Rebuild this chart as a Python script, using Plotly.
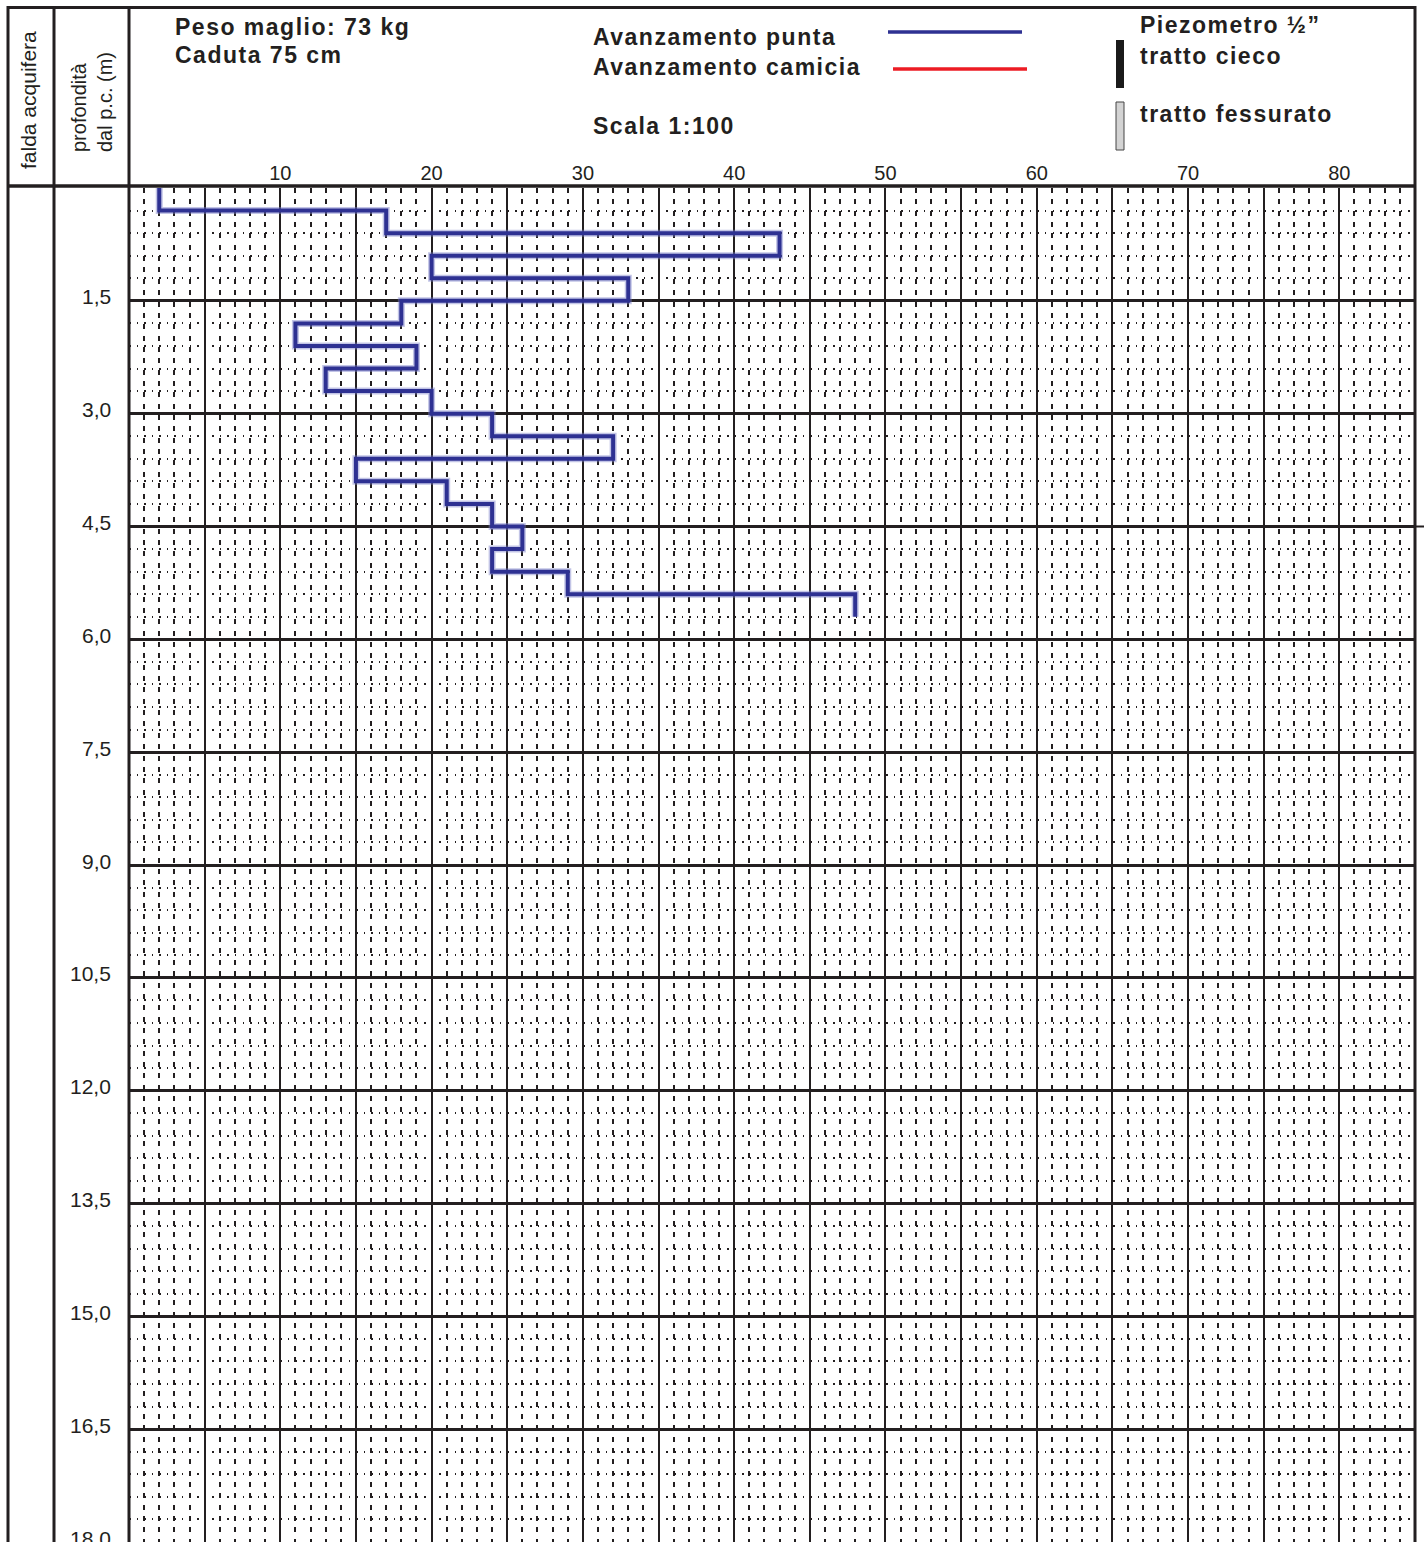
import plotly.graph_objects as go

# Penetration test log: blows per 30 cm of advance vs depth
depth_top = [0.0, 0.3, 0.6, 0.9, 1.2, 1.5, 1.8, 2.1, 2.4, 2.7,
             3.0, 3.3, 3.6, 3.9, 4.2, 4.5, 4.8, 5.1, 5.4]
depth_end = 5.7
blows_tip = [2, 17, 43, 20, 33, 18, 11, 19, 13, 20,
             24, 32, 15, 21, 24, 26, 24, 29, 48]

# Axis scales
x_grid_values = [5, 10, 15, 20, 25, 30, 35, 40, 45, 50, 55, 60, 65, 70, 75, 80]
x_label_values = [10, 20, 30, 40, 50, 60, 70, 80]
depth_major = [1.5, 3.0, 4.5, 6.0, 7.5, 9.0, 10.5, 12.0, 13.5, 15.0, 16.5]
depth_labels = [1.5, 3.0, 4.5, 6.0, 7.5, 9.0, 10.5, 12.0, 13.5, 15.0, 16.5, 18.0]

W, H = 1424, 1542
L, R, T, B = 129, 9, 188, 0
PW, PH = W - L - R, H - T - B

INK = "#231f20"
BLUE = "#2e3192"
RED = "#ed1c24"
FONT = "Liberation Sans"


def fx(px):
    return (px - L) / PW


def fy(py):
    return (H - B - py) / PH


fig = go.Figure()

# soft halo under the profile line
fig.add_trace(go.Scatter(
    x=blows_tip + [blows_tip[-1]], y=depth_top + [depth_end],
    mode="lines", line=dict(color="rgba(120,125,200,0.45)", width=7, shape="vh"),
    hoverinfo="skip", showlegend=False))
fig.add_trace(go.Scatter(
    x=blows_tip + [blows_tip[-1]], y=depth_top + [depth_end],
    mode="lines", line=dict(color=BLUE, width=4, shape="vh"),
    name="Avanzamento punta", showlegend=False))

fig.update_xaxes(
    range=[0, 85], side="top",
    tickmode="array", tickvals=x_grid_values,
    ticktext=[str(v) if v in x_label_values else "" for v in x_grid_values],
    tickfont=dict(family=FONT, size=20, color=INK),
    ticks="", ticklabelstandoff=3, showline=False, zeroline=False,
    showgrid=True, gridcolor=INK, gridwidth=2,
    minor=dict(dtick=1, tick0=0, showgrid=True, gridcolor=INK,
               gridwidth=1.5, griddash="5px,6.35px"),
)
fig.update_yaxes(
    range=[18, 0],
    tickmode="array", tickvals=depth_major, showticklabels=False,
    ticks="", showline=False, zeroline=False,
    showgrid=True, gridcolor=INK, gridwidth=3,
    minor=dict(dtick=0.3, tick0=0, showgrid=True, gridcolor=INK,
               gridwidth=1.5, griddash="1.5px,6.07px"),
)

shapes = []


def pline(x0, y0, x1, y1, color=INK, width=3):
    shapes.append(dict(type="line", xref="paper", yref="paper",
                       x0=fx(x0), y0=fy(y0), x1=fx(x1), y1=fy(y1),
                       line=dict(color=color, width=width)))


# frame and columns
pline(8, 7.5, 1416, 7.5)
pline(8, 186, 1416, 186, width=3.5)
for cx in (8, 54, 129, 1415):
    pline(cx, 6, cx, H)

# water table line runs past the frame
shapes.append(dict(type="line", xref="paper", yref="y",
                   x0=1.0, x1=fx(1424), y0=4.5, y1=4.5,
                   line=dict(color=INK, width=2)))

# legend swatches
pline(888, 32, 1022, 32, color=BLUE, width=3.5)
pline(893, 69, 1027, 69, color=RED, width=3.5)
shapes.append(dict(type="rect", xref="paper", yref="paper",
                   x0=fx(1116), x1=fx(1124), y0=fy(40), y1=fy(88),
                   fillcolor="#1a1a1a", line=dict(width=0)))
shapes.append(dict(type="rect", xref="paper", yref="paper",
                   x0=fx(1116), x1=fx(1124), y0=fy(102), y1=fy(150),
                   fillcolor="#d3d3d3", line=dict(color="#444", width=1)))

annotations = []


def header(text, x, y, size=23, spacing=1.5):
    annotations.append(dict(
        xref="paper", yref="paper", x=fx(x), y=fy(y),
        xanchor="left", yanchor="middle", showarrow=False,
        text=f'<span style="letter-spacing:{spacing}px">{text}</span>',
        font=dict(family=FONT, size=size, color=INK, weight="bold")))


header("Peso maglio: 73 kg", 173, 27)
header("Caduta 75 cm", 173, 55)
header("Avanzamento punta", 591, 37)
header("Avanzamento camicia", 591, 67)
header("Scala 1:100", 591, 126)
header("Piezometro ½”", 1138, 25)
header("tratto cieco", 1138, 56)
header("tratto fessurato", 1138, 114)

annotations.append(dict(
    xref="paper", yref="paper", x=fx(29), y=fy(100), textangle=-90,
    xanchor="center", yanchor="middle", showarrow=False,
    text="falda acquifera", font=dict(family=FONT, size=21, color=INK)))
annotations.append(dict(
    xref="paper", yref="paper", x=fx(92), y=fy(102), textangle=-90,
    xanchor="center", yanchor="middle", showarrow=False, align="left",
    text="profondità<br>dal p.c. (m)", font=dict(family=FONT, size=20, color=INK)))

for d in depth_labels:
    annotations.append(dict(
        xref="paper", yref="y", x=fx(113), y=d,
        xanchor="right", yanchor="middle", showarrow=False, yshift=4,
        text=f"{d:.1f}".replace(".", ","),
        font=dict(family=FONT, size=21, color=INK)))

fig.update_layout(
    width=W, height=H,
    margin=dict(l=L, r=R, t=T, b=B, pad=0),
    plot_bgcolor="white", paper_bgcolor="white",
    shapes=shapes, annotations=annotations,
    showlegend=False,
)

fig.write_html("out.html")
